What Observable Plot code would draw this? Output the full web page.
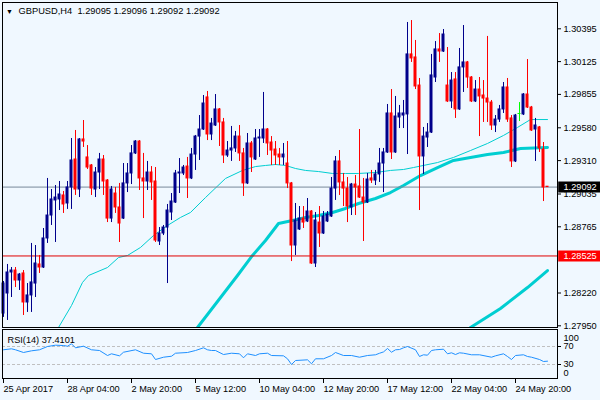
<!DOCTYPE html>
<html><head><meta charset="utf-8">
<script src="https://cdn.jsdelivr.net/npm/d3@7"></script>
<script src="https://cdn.jsdelivr.net/npm/@observablehq/plot@0.6"></script>
<style>
html,body{margin:0;padding:0;background:#F0F8FF;}
#wrap{position:relative;width:600px;height:400px;background:#F0F8FF;overflow:hidden;}
#wrap svg{position:absolute;left:0;display:block;}
</style></head><body><div id="wrap"></div>
<script>
// ---------- data ----------
const symbolTitle = "GBPUSD,H4";
const titleOHLC = [1.29095, 1.29096, 1.29092, 1.29092];
const open = [1.28051,1.28216,1.28389,1.28405,1.28323,1.28381,1.28142,1.28200,1.28298,1.28455,
1.28430,1.28669,1.28858,1.28982,1.28990,1.29023,1.28957,1.29089,1.29319,1.29072,
1.29484,1.29336,1.29270,1.29072,1.29212,1.29319,1.29146,1.28833,1.29039,1.28924,
1.28833,1.29122,1.29204,1.29369,1.29467,1.29163,1.29138,1.29212,1.29138,1.28644,
1.28710,1.28759,1.28883,1.28965,1.29204,1.29204,1.29261,1.29163,1.29360,1.29508,
1.29566,1.29830,1.29525,1.29599,1.29731,1.29624,1.29352,1.29393,1.29410,1.29508,
1.29369,1.29122,1.29451,1.29319,1.29492,1.29492,1.29566,1.29459,1.29401,1.29360,
1.29336,1.29286,1.29122,1.28611,1.28743,1.28833,1.28809,1.28891,1.28463,1.28800,
1.28710,1.28809,1.28850,1.29080,1.29303,1.29130,1.29080,1.28924,1.29113,1.29097,
1.29006,1.28965,1.29163,1.29146,1.29196,1.29286,1.29377,1.29698,1.29377,1.29665,
1.29681,1.29690,1.30184,1.30159,1.29928,1.29344,1.29500,1.29541,1.29994,1.30225,
1.30208,1.29928,1.29797,1.29978,1.29731,1.30077,1.30118,1.29994,1.29797,1.29895,
1.29846,1.29821,1.29788,1.29599,1.29648,1.29731,1.29912,1.29657,1.29303,1.29698,
1.29690,1.29854,1.29747,1.29566,1.29583,1.29401,1.29095];
const high = [1.28315,1.28455,1.28430,1.28430,1.28381,1.28405,1.28298,1.28628,1.28611,1.28529,
1.28751,1.29163,1.29072,1.29105,1.29138,1.29056,1.29138,1.29492,1.29558,1.29492,
1.29640,1.29434,1.29278,1.29253,1.29369,1.29352,1.29154,1.29097,1.29089,1.29122,
1.29286,1.29286,1.29434,1.29475,1.29475,1.29369,1.29303,1.29261,1.29253,1.28759,
1.28776,1.28949,1.29039,1.29229,1.29327,1.29270,1.29336,1.29410,1.29517,1.29681,
1.29846,1.29879,1.29657,1.29854,1.29739,1.29657,1.29467,1.29591,1.29550,1.29599,
1.29410,1.29533,1.29467,1.29566,1.29566,1.29871,1.29574,1.29508,1.29467,1.29410,
1.29451,1.29467,1.29130,1.28957,1.28932,1.28932,1.28998,1.28899,1.28883,1.28932,
1.28891,1.28891,1.29171,1.29344,1.29393,1.29204,1.29171,1.29122,1.29187,1.29566,
1.29163,1.29204,1.29229,1.29229,1.29410,1.29410,1.29772,1.29895,1.29838,1.29764,
1.29805,1.30447,1.30463,1.30299,1.29986,1.29583,1.29615,1.30184,1.30290,1.30356,
1.30389,1.30241,1.30035,1.30035,1.30233,1.30422,1.30126,1.30002,1.29969,1.29994,
1.29969,1.30332,1.29805,1.29681,1.29764,1.29953,1.29986,1.29681,1.29690,1.29788,
1.29862,1.30142,1.29756,1.29657,1.29591,1.29459,1.29096];
const low = [1.28019,1.27994,1.28183,1.28265,1.28241,1.28035,1.28060,1.28060,1.28183,1.28381,
1.28422,1.28628,1.28776,1.28636,1.28899,1.28875,1.28908,1.28908,1.29023,1.29006,
1.29418,1.29237,1.29023,1.29006,1.29072,1.29023,1.28800,1.28800,1.28875,1.28636,
1.28825,1.29047,1.29113,1.29360,1.29064,1.28833,1.29064,1.28982,1.28636,1.28611,
1.28693,1.28298,1.28817,1.28957,1.29039,1.29187,1.28998,1.29154,1.29229,1.29311,
1.29558,1.29475,1.29475,1.29591,1.29426,1.29286,1.29336,1.29303,1.29377,1.29303,
1.29015,1.29113,1.29212,1.29311,1.29336,1.29451,1.29352,1.29270,1.29270,1.29270,
1.29270,1.29080,1.28479,1.28529,1.28735,1.28751,1.28800,1.28455,1.28430,1.28595,
1.28702,1.28800,1.28842,1.28982,1.29023,1.28932,1.28800,1.28858,1.28858,1.28998,
1.28644,1.28957,1.29122,1.29105,1.29130,1.29047,1.29369,1.29319,1.29369,1.29574,
1.29574,1.29360,1.30118,1.29895,1.28899,1.29196,1.29418,1.29533,1.29953,1.30118,
1.30200,1.29788,1.29739,1.29657,1.29723,1.29871,1.29904,1.29788,1.29788,1.29508,
1.29624,1.29624,1.29558,1.29541,1.29624,1.29698,1.29624,1.29253,1.29294,1.29632,
1.29681,1.29739,1.29550,1.29303,1.29377,1.28973,1.29092];
const close = [1.28298,1.28389,1.28405,1.28323,1.28372,1.28142,1.28200,1.28307,1.28463,1.28430,
1.28669,1.28858,1.28990,1.29006,1.29031,1.28949,1.29089,1.29311,1.29072,1.29484,
1.29467,1.29253,1.29080,1.29212,1.29319,1.29138,1.28833,1.29072,1.28924,1.28792,
1.29122,1.29204,1.29369,1.29467,1.29163,1.29138,1.29212,1.29130,1.28652,1.28710,
1.28759,1.28899,1.28973,1.29204,1.29212,1.29253,1.29163,1.29360,1.29508,1.29566,
1.29780,1.29525,1.29615,1.29731,1.29624,1.29352,1.29393,1.29410,1.29508,1.29369,
1.29122,1.29451,1.29336,1.29492,1.29500,1.29566,1.29451,1.29393,1.29352,1.29336,
1.29360,1.29122,1.28611,1.28817,1.28833,1.28800,1.28891,1.28463,1.28817,1.28710,
1.28850,1.28866,1.29080,1.29303,1.29130,1.29080,1.28932,1.29113,1.29089,1.29006,
1.28965,1.29154,1.29146,1.29196,1.29286,1.29377,1.29698,1.29377,1.29673,1.29698,
1.29698,1.30184,1.30151,1.29920,1.29344,1.29508,1.29541,1.30011,1.30225,1.30208,
1.30348,1.29797,1.29969,1.29731,1.30077,1.30118,1.29994,1.29797,1.29895,1.29838,
1.29821,1.29788,1.29599,1.29648,1.29731,1.29912,1.29648,1.29303,1.29681,1.29698,
1.29854,1.29747,1.29558,1.29599,1.29410,1.29089,1.29092];

// moving averages (candle index, price)
const ma1Idx = [13.75,17,19.75,21.25,26,28.75,31,34.25,37.5,41,44.25,46.75,50.5,55.5,59.75,63,65.5,68,70.5,73,75.5,78.75,82.25,85.5,88.75,93,96.75,100,102.5,108.5,112.5,116.75,121,125,128.5,131.75,136];
const ma1Val = [1.27936,1.28117,1.28307,1.28364,1.28430,1.28512,1.28529,1.28595,1.28693,1.28776,1.28842,1.28883,1.29006,1.29163,1.29229,1.29261,1.29270,1.29278,1.29270,1.29245,1.29229,1.29220,1.29204,1.29204,1.29204,1.29212,1.29229,1.29237,1.29253,1.29294,1.29336,1.29393,1.29451,1.29517,1.29583,1.29648,1.29648];
const ma2Idx = [48.5,58.5,62.25,65.5,68.75,72.25,75.5,78.75,82.25,85.5,88.75,93,96.75,100,104.25,108.5,112.5,116.75,121,125,129.25,136];
const ma2Val = [1.27936,1.28364,1.28529,1.28652,1.28792,1.28817,1.28842,1.28858,1.28883,1.28916,1.28957,1.28998,1.29047,1.29105,1.29187,1.29253,1.29311,1.29336,1.29360,1.29377,1.29410,1.29418];
const ma3Idx = [116.75,124.25,131,136];
const ma3Val = [1.27936,1.28093,1.28265,1.28405];

const lastPrice = 1.29092;
const levelPrice = 1.28525;
const priceTicks = [1.30395,1.30125,1.29855,1.29580,1.29310,1.29035,1.28765,1.28220,1.27950];

// RSI(14)
const rsiTitle = "RSI(14) 37.4101";
const rsiIdx = [0,2,3,5,7,9,11,13,15,16,17,18,20,22,24,26,27,29,30,33,35,37,38,40,42,43,46,48,50,51,52,53,55,57,59,60,61,63,64,66,67,70,71,72,73,76,77,78,80,82,83,85,87,89,91,93,94,95,96,97,98,99,100,101,103,104,105,106,107,108,110,111,112,113,114,115,117,119,122,123,125,126,127,128,130,131,132,134,135,136];
const rsiVal = [62.7,64.9,62.7,56.7,60.4,62.7,70.0,72.9,72.2,70.7,76.0,67.1,70.7,62.7,61.1,50.0,53.8,49.3,57.3,62.7,55.1,53.8,41.1,46.2,48.4,55.1,56.7,61.1,67.1,62.7,61.1,61.1,52.2,55.1,53.8,44.9,53.8,50.0,53.8,55.1,50.0,49.3,42.7,30.0,38.9,40.4,31.6,42.7,42.7,50.0,56.7,50.0,50.0,46.2,50.0,51.6,55.0,58.0,65.6,57.3,62.7,63.3,67.1,70.0,62.7,47.8,51.6,50.7,61.1,62.7,64.0,53.8,56.0,52.2,56.0,55.1,51.6,51.6,46.2,49.3,53.8,47.8,41.1,50.0,51.6,47.8,46.2,41.1,36.7,37.4];
const rsiLevels = [70, 30];
const rsiEdgeLabels = [100, 0];

// time axis
const timeTickIdx = [0,16,32,48,64,80,96,112,128];
const timeTickLabels = ["25 Apr 2017","28 Apr 04:00","2 May 20:00","5 May 12:00","10 May 04:00","12 May 20:00","17 May 12:00","22 May 04:00","24 May 20:00"];

// ---------- build ----------
const FONT = "'Liberation Sans', Arial, sans-serif";
const FS = 9.2;
const UP = "#00008B", DOWN = "#FF0000", FLAT = "#00FF00", MA = "#00CED1";
const candles = open.map((o, i) => ({
  i, o, h: high[i], l: low[i], c: close[i],
  col: close[i] > o ? UP : close[i] < o ? DOWN : FLAT
}));
const ma1 = ma1Idx.map((i, k) => ({i, v: ma1Val[k]}));
const ma2 = ma2Idx.map((i, k) => ({i, v: ma2Val[k]}));
const ma3 = ma3Idx.map((i, k) => ({i, v: ma3Val[k]}));
const rsi = rsiIdx.map((i, k) => ({i, v: rsiVal[k]}));

const xDomain = [-0.25, 138.5];
const xEnd = xDomain[1];
const style = {background: "transparent", fontFamily: FONT, fontSize: FS + "px", color: "black", overflow: "visible"};

const main = Plot.plot({
  width: 600, height: 329,
  marginTop: 2, marginBottom: 2, marginLeft: 2, marginRight: 43,
  style,
  color: {type: "identity"},
  x: {domain: xDomain, axis: null},
  y: {domain: [1.279361, 1.306115], axis: null},
  marks: [
    Plot.line(ma1, {x: "i", y: "v", stroke: MA, strokeWidth: 1, clip: true}),
    Plot.line(ma2, {x: "i", y: "v", stroke: MA, strokeWidth: 3, clip: true}),
    Plot.line(ma3, {x: "i", y: "v", stroke: MA, strokeWidth: 3, clip: true}),
    Plot.ruleY([levelPrice], {stroke: "#E00000"}),
    Plot.ruleY([lastPrice], {stroke: "#778899"}),
    Plot.ruleX(candles, {x: "i", y1: "l", y2: "h", stroke: "col"}),
    Plot.rect(candles.filter(d => d.col !== FLAT), {x1: d => d.i - 0.25, x2: d => d.i + 0.25, y1: "o", y2: "c", fill: "col", stroke: "col", strokeWidth: 1}),
    Plot.ruleY(candles.filter(d => d.col === FLAT), {x1: d => d.i - 0.375, x2: d => d.i + 0.375, y: "o", stroke: FLAT}),
    Plot.frame({stroke: "black"}),
    Plot.axisY({anchor: "right", label: null, ticks: priceTicks, tickFormat: d => d.toFixed(5), tickSize: 3, tickPadding: 3, fontSize: FS}),
    Plot.ruleY([lastPrice], {y: d => d, x1: xEnd + 0.3, x2: xEnd + 11, stroke: "black", strokeWidth: 11}),
    Plot.text([lastPrice], {y: d => d, text: d => d.toFixed(5), frameAnchor: "right", dx: 6, textAnchor: "start", fill: "white", fontSize: FS}),
    Plot.ruleY([levelPrice], {y: d => d, x1: xEnd + 0.3, x2: xEnd + 11, stroke: "#FF0000", strokeWidth: 11}),
    Plot.text([levelPrice], {y: d => d, text: d => d.toFixed(5), frameAnchor: "right", dx: 6, textAnchor: "start", fill: "white", fontSize: FS}),
    Plot.text(["\u25BC"], {frameAnchor: "top-left", dx: 7, dy: 9, textAnchor: "middle", lineAnchor: "middle", fontSize: 7, fill: "black"}),
    Plot.text([symbolTitle + "\u00a0\u00a0" + titleOHLC.map(d => d.toFixed(5)).join(" ")], {frameAnchor: "top-left", dx: 16, dy: 9, textAnchor: "start", lineAnchor: "middle", fontSize: 9.3, fill: "black"})
  ]
});
main.style.top = "0px";

const rsiPlot = Plot.plot({
  width: 600, height: 73,
  marginTop: 2, marginBottom: 22, marginLeft: 2, marginRight: 43,
  style,
  x: {domain: xDomain, label: null},
  y: {domain: [-1.1, 107.8], axis: null, label: null},
  marks: [
    Plot.ruleY(rsiLevels, {stroke: "#C0C0C0", strokeDasharray: "3,2"}),
    Plot.line(rsi, {x: "i", y: "v", stroke: "#1E90FF", strokeWidth: 1}),
    Plot.frame({stroke: "black"}),
    Plot.axisX({label: null, ticks: timeTickIdx, tickFormat: d => timeTickLabels[timeTickIdx.indexOf(d)], textAnchor: "start", tickSize: 5, tickPadding: 2, fontSize: FS}),
    Plot.axisY({anchor: "right", label: null, ticks: rsiLevels, tickFormat: d => String(d), tickSize: 3, tickPadding: 3, fontSize: FS}),
    Plot.text([rsiEdgeLabels[0]], {y: d => d, text: d => String(d), frameAnchor: "right", dx: 6, dy: 5, textAnchor: "start", fontSize: FS}),
    Plot.text([rsiEdgeLabels[1]], {y: d => d, text: d => String(d), frameAnchor: "right", dx: 6, dy: -4.5, textAnchor: "start", fontSize: FS}),
    Plot.text([rsiTitle], {frameAnchor: "top-left", dx: 5, dy: 11, textAnchor: "start", lineAnchor: "middle", fontSize: FS, fill: "black"})
  ]
});
rsiPlot.style.top = "327px";

const wrap = document.getElementById("wrap");
wrap.appendChild(main);
wrap.appendChild(rsiPlot);
</script>
</body></html>
